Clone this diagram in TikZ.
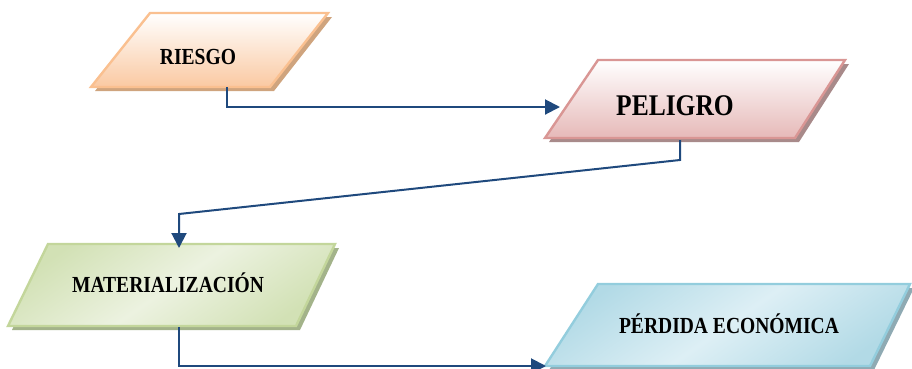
\documentclass[tikz,border=0pt]{standalone}
\usepackage{fontspec}
\newfontfamily\camb[FakeStretch=0.85]{Liberation Serif}
\usetikzlibrary{arrows.meta}
\definecolor{arrowblue}{HTML}{1F497D}
\definecolor{rBorder}{HTML}{FAC090}
\definecolor{rFill}{HTML}{FAC9A2}
\definecolor{rShadow}{HTML}{CFA47E}
\definecolor{pBorder}{HTML}{D99694}
\definecolor{pFill}{HTML}{E6B9B8}
\definecolor{pShadow}{HTML}{A88A8A}
\definecolor{mBorder}{HTML}{C3D69B}
\definecolor{mFill}{HTML}{D2E1B5}
\definecolor{mLight}{HTML}{ECF2E0}
\definecolor{mShadow}{HTML}{A3B38A}
\definecolor{dBorder}{HTML}{93CDDD}
\definecolor{dFill}{HTML}{B2DAE6}
\definecolor{dLight}{HTML}{DDEFF5}
\definecolor{dShadow}{HTML}{8FAAB3}
\begin{document}
\begin{tikzpicture}[x=1pt,y=-1pt,
  txt/.style={font=\camb\bfseries\fontsize{23}{26}\selectfont, inner sep=0pt, anchor=base},
  bigtxt/.style={txt, font=\camb\bfseries\fontsize{30}{34}\selectfont},
  conn/.style={draw=arrowblue, line width=2pt, -{Triangle[length=15pt,width=15pt]}},
  shapeline/.style={line width=2.4pt, line join=miter},
  shadowshift/.style={shift={(4,4)}}
]
\useasboundingbox (0,0) rectangle (912,368);

% RIESGO
\fill[rShadow, shadowshift] (150,13) -- (328,13) -- (270,87) -- (91,87) -- cycle;
\path[shapeline, draw=rBorder, top color=white, bottom color=rFill]
  (150,13) -- (328,13) -- (270,87) -- (91,87) -- cycle;
\node[txt] (riesgo) at (198,64) {RIESGO};

% PELIGRO
\fill[pShadow, shadowshift] (598,60) -- (845,60) -- (795,138) -- (545,138) -- cycle;
\path[shapeline, draw=pBorder, top color=white, bottom color=pFill]
  (598,60) -- (845,60) -- (795,138) -- (545,138) -- cycle;
\node[bigtxt] (peligro) at (675,115) {PELIGRO};

% MATERIALIZACION
\fill[mShadow, shadowshift] (48,244) -- (335,244) -- (296,326) -- (8,326) -- cycle;
\path[shapeline, draw=mBorder, left color=mFill, right color=mFill, middle color=mLight, shading angle=35]
  (48,244) -- (335,244) -- (296,326) -- (8,326) -- cycle;
\node[txt] (mat) at (168,292) {MATERIALIZACIÓN};

% PERDIDA ECONOMICA
\fill[dShadow, shadowshift] (598,284) -- (910,284) -- (870,366) -- (545,366) -- cycle;
\path[shapeline, draw=dBorder, left color=dFill, right color=dFill, middle color=dLight, shading angle=35]
  (598,284) -- (910,284) -- (870,366) -- (545,366) -- cycle;
\node[txt] (perdida) at (729,333) {PÉRDIDA ECONÓMICA};

% connector ports
\coordinate (riesgo-out) at (227,87);
\coordinate (peligro-in) at (560,107);
\coordinate (peligro-out) at (680,140);
\coordinate (bendA) at (680,160);
\coordinate (bendB) at (179,214);
\coordinate (mat-in) at (179,248);
\coordinate (mat-out) at (179,327);
\coordinate (perdida-in) at (546,366);

\draw[conn] (riesgo-out) |- (peligro-in);
\draw[conn] (peligro-out) -- (bendA) -- (bendB) -- (mat-in);
\draw[conn] (mat-out) |- (perdida-in);
\end{tikzpicture}
\end{document}
